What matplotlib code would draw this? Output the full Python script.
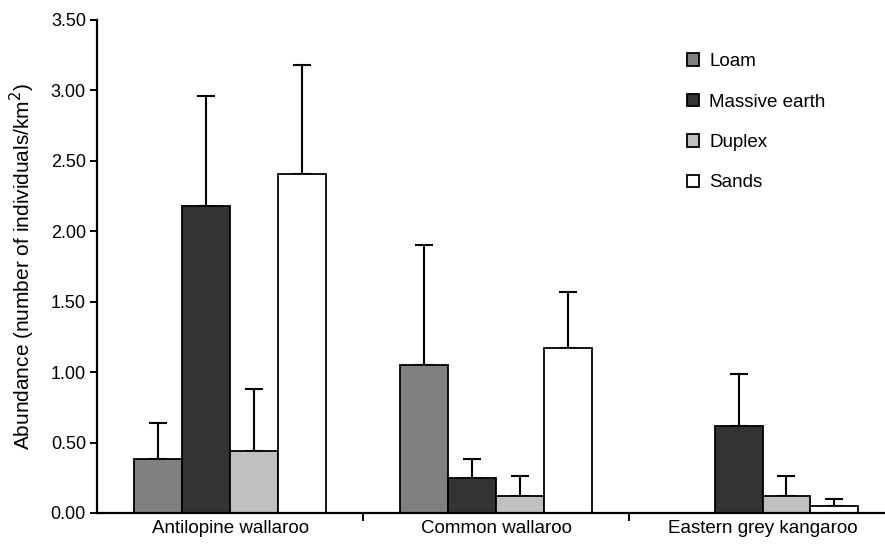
import numpy as np
import matplotlib
matplotlib.use('Agg')
import matplotlib.pyplot as plt
from matplotlib.ticker import FormatStrFormatter

# =========================
# DATA
# =========================
species = ["Antilopine wallaroo", "Common wallaroo", "Eastern grey kangaroo"]
soils = ["Loam", "Massive earth", "Duplex", "Sands"]

loam = [0.38, 1.05, 0.0]
massive = [2.18, 0.25, 0.62]
duplex = [0.44, 0.12, 0.12]
sands = [2.41, 1.17, 0.05]

loam_err = [0.26, 0.85, 0.0]
massive_err = [0.78, 0.13, 0.37]
duplex_err = [0.44, 0.14, 0.14]
sands_err = [0.77, 0.40, 0.05]

colours = ["#808080", "#333333", "#c0c0c0", "#ffffff"]

plt.rcParams['font.family'] = ['Liberation Sans', 'DejaVu Sans']

fig = plt.figure(figsize=(8.85, 5.49), dpi=100)
ax = fig.add_axes([0.1096, 0.0656, 0.8904, 0.898])

x = np.arange(len(species))
w = 0.18
series = [loam, massive, duplex, sands]
errs = [loam_err, massive_err, duplex_err, sands_err]

for i, (vals, err) in enumerate(zip(series, errs)):
    pos = x + (i - 1.5) * w
    show = [v > 0 for v in vals]
    ax.bar(pos, vals, w, color=colours[i], edgecolor="black", linewidth=1.3,
           label=soils[i], zorder=2)
    ax.errorbar(pos[show], np.array(vals)[show],
                yerr=[np.zeros(sum(show)), np.array(err)[show]],
                fmt="none", ecolor="black", elinewidth=1.5, capsize=6.5,
                capthick=1.5, zorder=1)

ax.set_xlim(-0.5, 2.46)
ax.set_ylim(0, 3.5)
ax.set_yticks(np.arange(0, 3.51, 0.5))
ax.yaxis.set_major_formatter(FormatStrFormatter("%.2f"))
ax.set_xticks([0.5, 1.5])
ax.set_xticklabels([])
ax.set_xticks(x, minor=True)
ax.set_xticklabels(species, minor=True, fontsize=13.5)
ax.tick_params(axis="x", which="minor", length=0, pad=5)
ax.tick_params(axis="x", which="major", length=6, width=1.4, direction="out")
ax.tick_params(axis="y", length=5, width=1.4, labelsize=13, pad=3)

ax.spines["top"].set_visible(False)
ax.spines["right"].set_visible(False)
ax.spines["left"].set_linewidth(1.6)
ax.spines["bottom"].set_linewidth(1.6)

ax.set_ylabel("Abundance (number of individuals/km$^2$)", fontsize=15, labelpad=10)

leg = ax.legend(loc="upper left", bbox_to_anchor=(0.727, 0.967), frameon=False,
                fontsize=13.5, handlelength=0.65, handleheight=0.65,
                labelspacing=1.25, handletextpad=0.55)

fig.savefig("out.png", dpi=100)
